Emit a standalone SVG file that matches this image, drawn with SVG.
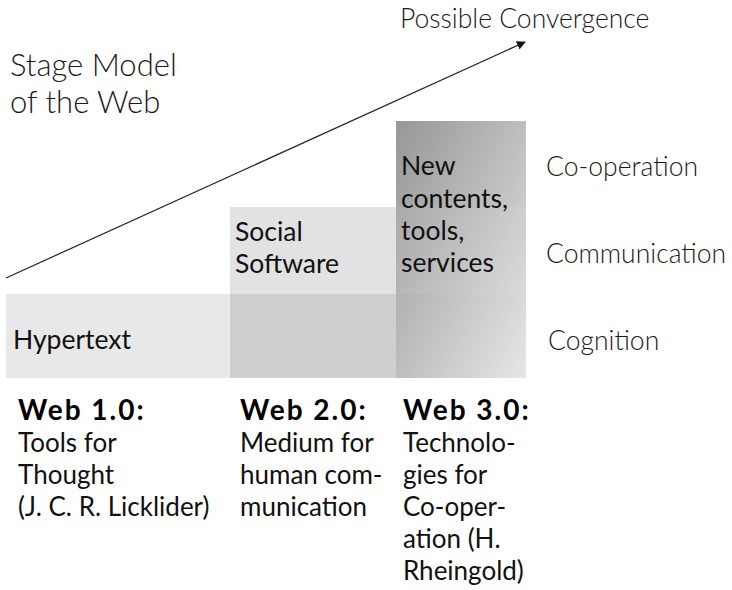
<svg xmlns="http://www.w3.org/2000/svg" width="732" height="590" viewBox="0 0 732 590">
  <defs>
    <linearGradient id="g3" x1="0" y1="0" x2="1" y2="1">
      <stop offset="0" stop-color="#979797"/>
      <stop offset="0.55" stop-color="#c2c2c2"/>
      <stop offset="1" stop-color="#e6e6e6"/>
    </linearGradient>
    <marker id="ah" viewBox="0 0 10 10" refX="9" refY="5" markerWidth="9" markerHeight="9" markerUnits="userSpaceOnUse" orient="auto">
      <path d="M0,0 L10,5 L0,10 z" fill="#111"/>
    </marker>
    <style>
      .lab { font-family: Lato, "Open Sans", "Liberation Sans", sans-serif; fill: #111; }
      .box { font-size: 26.5px; }
      .light { font-family: Lato, "Open Sans", "Liberation Sans", sans-serif; font-weight: 300; fill: #1a1a1a; }
      .axis { font-size: 26.5px; }
      .hd { font-family: Lato, "Open Sans", "Liberation Sans", sans-serif; font-weight: 700; font-size: 28px; letter-spacing: 2px; fill: #000; }
      .desc { font-family: Lato, "Open Sans", "Liberation Sans", sans-serif; font-size: 26px; fill: #111; }
    </style>
  </defs>
  <rect width="732" height="590" fill="#ffffff"/>

  <g id="title">
    <text class="light" font-size="31" x="10" y="76">Stage Model</text>
    <text class="light" font-size="31" x="10" y="113">of the Web</text>
  </g>

  <g id="convergence">
    <text class="light axis" x="400" y="28">Possible Convergence</text>
  </g>

  <g id="web1-block">
    <rect x="6" y="294" width="520" height="84" fill="#e8e8e8"/>
    <text class="lab box" x="13" y="349">Hypertext</text>
  </g>

  <g id="web2-block">
    <rect x="230" y="207" width="166" height="87" fill="#e2e2e2"/>
    <rect x="230" y="294" width="166" height="84" fill="#cfcfcf"/>
    <text class="lab box" x="235" y="241">Social</text>
    <text class="lab box" x="235" y="273">Software</text>
  </g>

  <g id="web3-block">
    <rect x="396" y="121" width="130" height="257" fill="url(#g3)"/>
    <rect x="396" y="207" width="130" height="87" fill="#ffffff" fill-opacity="0.06"/>
    <text class="lab box" x="401" y="175">New</text>
    <text class="lab box" x="401" y="208">contents,</text>
    <text class="lab box" x="401" y="240">tools,</text>
    <text class="lab box" x="401" y="272">services</text>
  </g>

  <g id="level-cooperation"><text class="light axis" x="546" y="176">Co-operation</text></g>
  <g id="level-communication"><text class="light axis" x="546" y="263">Communication</text></g>
  <g id="level-cognition"><text class="light axis" x="548" y="350">Cognition</text></g>

  <g id="web1-desc">
    <text class="hd" x="18" y="420">Web 1.0:</text>
    <text class="desc" x="18" y="452">Tools for</text>
    <text class="desc" x="18" y="484">Thought</text>
    <text class="desc" x="18" y="516">(J. C. R. Licklider)</text>
  </g>
  <g id="web2-desc">
    <text class="hd" x="240" y="420">Web 2.0:</text>
    <text class="desc" x="240" y="452">Medium for</text>
    <text class="desc" x="240" y="484">human com-</text>
    <text class="desc" x="240" y="516">munication</text>
  </g>
  <g id="web3-desc">
    <text class="hd" x="403" y="420">Web 3.0:</text>
    <text class="desc" x="403" y="452">Technolo-</text>
    <text class="desc" x="403" y="484">gies for</text>
    <text class="desc" x="403" y="516">Co-oper-</text>
    <text class="desc" x="403" y="548">ation (H.</text>
    <text class="desc" x="403" y="580">Rheingold)</text>
  </g>

  <g id="connectors">
    <line x1="6" y1="278" x2="525" y2="42" stroke="#222" stroke-width="1.2" marker-end="url(#ah)"/>
  </g>
</svg>
